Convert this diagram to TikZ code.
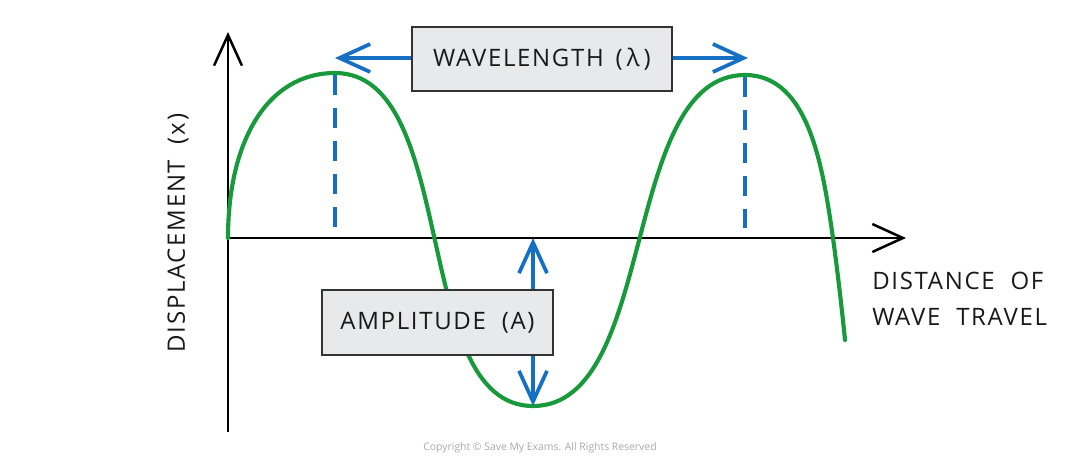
\documentclass[tikz,border=0pt]{standalone}
\usepackage{fontspec}
\usetikzlibrary{arrows.meta}
\newfontfamily\lblfont[LetterSpace=7]{Open Sans}
\newfontfamily\cpfont{Open Sans}
\definecolor{wavegreen}{HTML}{18993C}
\definecolor{arrowblue}{HTML}{1570C4}
\definecolor{boxfill}{HTML}{E7E9EA}
\definecolor{boxline}{HTML}{333333}
\definecolor{cpgray}{HTML}{A8A8A8}
\tikzset{
  axisline/.style={line width=1.9pt, black, -{Straight Barb[length=23pt,width=21pt,line width=1.9pt]}},
  blueline/.style={line width=2.8pt, arrowblue},
  bluearrows/.style={blueline, {Straight Barb[length=23pt,width=21pt,line width=2.8pt]}-{Straight Barb[length=23pt,width=21pt,line width=2.8pt]}},
  dashline/.style={blueline, dash pattern=on 15pt off 9.75pt},
  wave/.style={line width=3.1pt, wavegreen, line cap=round},
  labelbox/.style={draw=boxline, line width=1.1pt, fill=boxfill, inner sep=0pt, font=\lblfont\fontsize{18}{21}\selectfont, text=black!90},
  plainlabel/.style={font=\lblfont\fontsize{18}{21}\selectfont, text=black!90, inner sep=0pt}
}
\begin{document}
\begin{tikzpicture}[x=0.75pt, y=-0.75pt]
\useasboundingbox (0,0) rectangle (1080,468);
% coordinates
\coordinate (O) at (228,238);
\coordinate (ytop) at (228,32);
\coordinate (ybot) at (228,432);
\coordinate (xend) at (906,238);
\coordinate (peakA) at (335,73);
\coordinate (peakB) at (745,75);
\coordinate (trough) at (533,406);
\coordinate (dA) at (335,238);
\coordinate (dB) at (745,238);
\coordinate (wlL) at (335,58);
\coordinate (wlR) at (748,58);
\coordinate (ampT) at (533,238);
% axes
\draw[axisline] (ybot) -- (ytop);
\draw[axisline] (O) -- (xend);
% wave
\draw[wave] (O) .. controls (228,140) and (268,73) .. (peakA)
  .. controls (460,73) and (410,406) .. (trough)
  .. controls (658,406) and (620,75) .. (peakB)
  .. controls (810,75) and (823,170) .. (833,238)
  .. controls (838,275) and (842,310) .. (845,340);
% dashed lines
\draw[dashline] ([yshift=-1.5pt]peakA) -- ([yshift=7.5pt]dA);
\draw[dashline] ([yshift=-1.5pt]peakB) -- ([yshift=7.5pt]dB);
% arrows
\draw[bluearrows] (wlL) -- (wlR);
\draw[bluearrows] (ampT) -- (trough);
% boxes
\node[labelbox, minimum width=195pt, minimum height=48pt] (wl) at (542,59) {WAVELENGTH \,(\,λ\,)};
\node[labelbox, minimum width=173pt, minimum height=49pt] (amp) at (437.5,322.5) {AMPLITUDE \ (A)};
% axis labels
\node[plainlabel, anchor=north west, align=left] (dist) at (872,272) {DISTANCE \ OF\\[5.5pt]WAVE \ TRAVEL};
\node[plainlabel, rotate=90] (disp) at (178,233) {DISPLACEMENT \ (x)};
% copyright
\node[font=\cpfont\fontsize{7.8}{9}\selectfont, text=cpgray, inner sep=0pt] (copy) at (540,448) {Copyright © Save My Exams. All Rights Reserved};
\end{tikzpicture}
\end{document}
